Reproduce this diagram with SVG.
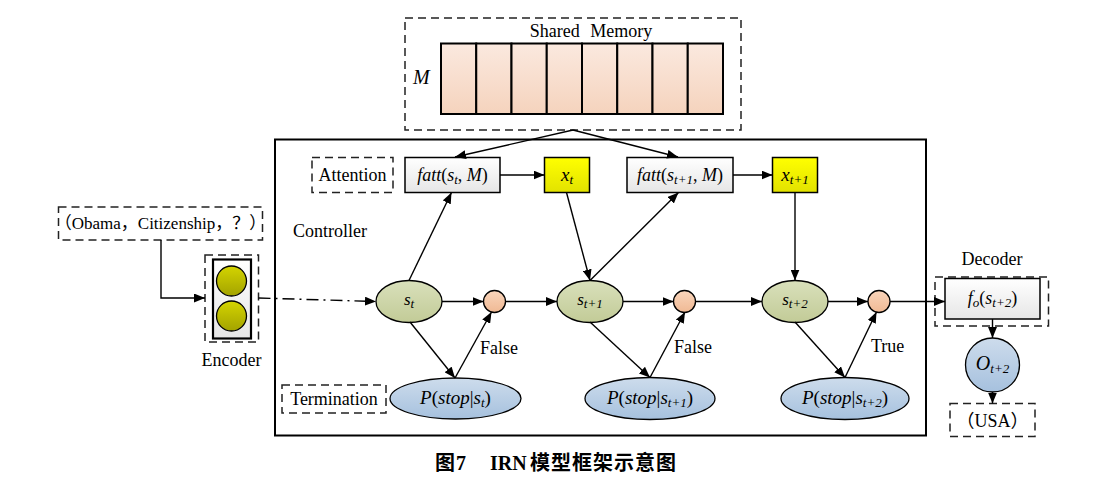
<svg xmlns="http://www.w3.org/2000/svg" width="1095" height="495" viewBox="0 0 1095 495">
<defs>
<linearGradient id="gMem" x1="0" y1="0" x2="0" y2="1"><stop offset="0" stop-color="#fbe9df"/><stop offset="1" stop-color="#f5d3bd"/></linearGradient>
<linearGradient id="gGray" x1="0" y1="0" x2="0" y2="1"><stop offset="0" stop-color="#ffffff"/><stop offset="1" stop-color="#e6e6e6"/></linearGradient>
<linearGradient id="gYel" x1="0" y1="0" x2="0" y2="1"><stop offset="0" stop-color="#ffff00"/><stop offset="1" stop-color="#e2e200"/></linearGradient>
<linearGradient id="gGreen" x1="0" y1="0" x2="0" y2="1"><stop offset="0" stop-color="#d9e0bb"/><stop offset="1" stop-color="#c2cb97"/></linearGradient>
<linearGradient id="gPeach" x1="0" y1="0" x2="0" y2="1"><stop offset="0" stop-color="#f9d5bb"/><stop offset="1" stop-color="#f0b994"/></linearGradient>
<linearGradient id="gBlue" x1="0" y1="0" x2="0" y2="1"><stop offset="0" stop-color="#cddcec"/><stop offset="1" stop-color="#a6c1de"/></linearGradient>
<linearGradient id="gOlive" x1="0" y1="0" x2="0" y2="1"><stop offset="0" stop-color="#d4d400"/><stop offset="1" stop-color="#a3a300"/></linearGradient>
<marker id="arr" markerUnits="userSpaceOnUse" markerWidth="11" markerHeight="9" refX="11" refY="4.5" orient="auto"><path d="M0,0 L11,4.5 L0,9 z" fill="#000"/></marker>
<style>
text { font-family: 'Liberation Serif', 'Noto Sans CJK SC', serif; fill:#000; }
.t15 { font-size:18px; }
.mid { text-anchor:middle; }
.it { font-style:italic; }
.sub { font-style:italic; font-size:13px; }
.cjk { font-family: 'Noto Sans CJK SC', sans-serif; }
.dash { fill:none; stroke:#222; stroke-width:1.5; stroke-dasharray:8 5; }
.ed { stroke:#000; stroke-width:1.4; fill:none; marker-end:url(#arr); }
.cell { fill:url(#gMem); stroke:#000; stroke-width:2; }
.box { stroke:#000; stroke-width:1.5; }
.ell { stroke:#000; stroke-width:1.3; }
</style>
</defs>

<!-- Controller frame -->
<rect id="controller" x="275" y="139.5" width="651" height="296" fill="none" stroke="#000" stroke-width="2"/>
<text class="t15" x="293" y="237">Controller</text>

<!-- Shared memory -->
<g id="memory">
<rect class="dash" x="405" y="18" width="336" height="112"/>
<text class="t15 mid" x="591" y="37" word-spacing="6">Shared Memory</text>
<text class="it" x="413" y="84" font-size="20">M</text>
<rect class="cell" x="441" y="43.5" width="35.25" height="70.5"/>
<rect class="cell" x="476.25" y="43.5" width="35.25" height="70.5"/>
<rect class="cell" x="511.5" y="43.5" width="35.25" height="70.5"/>
<rect class="cell" x="546.75" y="43.5" width="35.25" height="70.5"/>
<rect class="cell" x="582" y="43.5" width="35.25" height="70.5"/>
<rect class="cell" x="617.25" y="43.5" width="35.25" height="70.5"/>
<rect class="cell" x="652.5" y="43.5" width="35.25" height="70.5"/>
<rect class="cell" x="687.75" y="43.5" width="35.25" height="70.5"/>
</g>

<!-- Attention label -->
<g id="attention-label">
<rect class="dash" x="312" y="157.5" width="81" height="35"/>
<text class="t15 mid" x="352.5" y="181">Attention</text>
</g>

<g id="fatt1">
<rect class="box" x="405" y="157.5" width="95" height="35" fill="url(#gGray)"/>
<text class="mid" x="452.5" y="181" font-size="18"><tspan class="it">fatt</tspan>(<tspan class="it">s</tspan><tspan class="sub" dy="3">t</tspan><tspan dy="-3">, </tspan><tspan class="it">M</tspan>)</text>
</g>
<g id="xt">
<rect class="box" x="544.5" y="157.5" width="45" height="35" fill="url(#gYel)"/>
<text class="mid" x="567" y="181" font-size="19"><tspan class="it">x</tspan><tspan class="sub" dy="3">t</tspan></text>
</g>
<g id="fatt2">
<rect class="box" x="627" y="157.5" width="106" height="35" fill="url(#gGray)"/>
<text class="mid" x="680" y="181" font-size="18"><tspan class="it">fatt</tspan>(<tspan class="it">s</tspan><tspan class="sub" dy="3">t+1</tspan><tspan dy="-3">, </tspan><tspan class="it">M</tspan>)</text>
</g>
<g id="xt1">
<rect class="box" x="772.5" y="157.5" width="45" height="35" fill="url(#gYel)"/>
<text class="mid" x="795" y="181" font-size="19"><tspan class="it">x</tspan><tspan class="sub" dy="3">t+1</tspan></text>
</g>

<!-- State nodes -->
<g id="st">
<ellipse class="ell" cx="409" cy="301.5" rx="33" ry="21" fill="url(#gGreen)"/>
<text class="mid" x="409" y="305" font-size="17"><tspan class="it">s</tspan><tspan class="sub" dy="3">t</tspan></text>
</g>
<g id="st1">
<ellipse class="ell" cx="590" cy="301.5" rx="33" ry="21" fill="url(#gGreen)"/>
<text class="mid" x="590" y="305" font-size="17"><tspan class="it">s</tspan><tspan class="sub" dy="3">t+1</tspan></text>
</g>
<g id="st2">
<ellipse class="ell" cx="795" cy="301.5" rx="33" ry="21" fill="url(#gGreen)"/>
<text class="mid" x="795" y="305" font-size="17"><tspan class="it">s</tspan><tspan class="sub" dy="3">t+2</tspan></text>
</g>

<!-- Gate circles -->
<g id="g1"><circle class="ell" cx="494.5" cy="301.5" r="11" fill="url(#gPeach)"/></g>
<g id="g2"><circle class="ell" cx="684.5" cy="301.5" r="11" fill="url(#gPeach)"/></g>
<g id="g3"><circle class="ell" cx="879" cy="301.5" r="11" fill="url(#gPeach)"/></g>

<!-- Termination -->
<g id="termination-label">
<rect class="dash" x="282" y="385" width="104" height="28"/>
<text class="t15 mid" x="334" y="405">Termination</text>
</g>
<g id="p1">
<ellipse class="ell" cx="455.5" cy="398.5" rx="65.5" ry="20.5" fill="url(#gBlue)"/>
<text class="mid" x="455.5" y="404" font-size="19"><tspan class="it">P</tspan>(<tspan class="it">stop</tspan>|<tspan class="it">s</tspan><tspan class="sub" dy="3">t</tspan><tspan dy="-3">)</tspan></text>
</g>
<g id="p2">
<ellipse class="ell" cx="650" cy="398.5" rx="65" ry="21" fill="url(#gBlue)"/>
<text class="mid" x="650" y="404" font-size="19"><tspan class="it">P</tspan>(<tspan class="it">stop</tspan>|<tspan class="it">s</tspan><tspan class="sub" dy="3">t+1</tspan><tspan dy="-3">)</tspan></text>
</g>
<g id="p3">
<ellipse class="ell" cx="845" cy="398.5" rx="64" ry="21" fill="url(#gBlue)"/>
<text class="mid" x="845" y="404" font-size="19"><tspan class="it">P</tspan>(<tspan class="it">stop</tspan>|<tspan class="it">s</tspan><tspan class="sub" dy="3">t+2</tspan><tspan dy="-3">)</tspan></text>
</g>

<!-- Input & encoder -->
<g id="input">
<rect class="dash" x="58.5" y="207" width="204" height="33"/>
<text class="mid" font-size="17" x="160.5" y="229"><tspan class="cjk">（</tspan>Obama<tspan class="cjk">，</tspan>Citizenship<tspan class="cjk">，？）</tspan></text>
</g>
<g id="encoder">
<rect class="dash" x="205" y="255" width="53.5" height="87"/>
<rect x="213" y="259.5" width="38" height="79" fill="url(#gGray)" stroke="#000" stroke-width="2.2"/>
<circle cx="231.5" cy="281" r="15" fill="url(#gOlive)" stroke="#000" stroke-width="1.3"/>
<circle cx="231.5" cy="316" r="15" fill="url(#gOlive)" stroke="#000" stroke-width="1.3"/>
<text class="t15 mid" x="231.5" y="366">Encoder</text>
</g>

<!-- Decoder -->
<g id="decoder">
<text class="t15 mid" x="992" y="265">Decoder</text>
<rect class="dash" x="935" y="277" width="113.5" height="49"/>
<rect class="box" x="945" y="278.5" width="95" height="40.5" fill="url(#gGray)"/>
<text class="mid" x="992.5" y="304" font-size="18"><tspan class="it">f</tspan><tspan class="sub" dy="3">o</tspan><tspan dy="-3">(</tspan><tspan class="it">s</tspan><tspan class="sub" dy="3">t+2</tspan><tspan dy="-3">)</tspan></text>
</g>
<g id="output">
<circle class="ell" cx="992.5" cy="365" r="27" fill="url(#gBlue)"/>
<text class="mid" x="992.5" y="370" font-size="20"><tspan class="it">O</tspan><tspan class="sub" dy="3">t+2</tspan></text>
</g>
<g id="answer">
<rect class="dash" x="950" y="403.5" width="85" height="33"/>
<text class="t15 mid" x="992.5" y="427"><tspan class="cjk">（</tspan>USA<tspan class="cjk">）</tspan></text>
</g>

<!-- Connectors -->
<g id="connectors">
<path class="ed" d="M573,130 L455,157"/>
<path class="ed" d="M573,130 L678,157"/>
<path class="ed" d="M500,175 L544.5,175"/>
<path class="ed" d="M733,175 L772.5,175"/>
<path class="ed" d="M409,280.5 L451.5,192.5"/>
<path class="ed" d="M566.5,192.5 L590,280.5"/>
<path class="ed" d="M590,280.5 L678.5,192.5"/>
<path class="ed" d="M795,192.5 L795,280.5"/>
<path class="ed" d="M442,301.5 L483.5,301.5"/>
<path class="ed" d="M505.5,301.5 L557,301.5"/>
<path class="ed" d="M623,301.5 L673.5,301.5"/>
<path class="ed" d="M695.5,301.5 L762,301.5"/>
<path class="ed" d="M828,301.5 L868,301.5"/>
<path class="ed" d="M890,301.5 L945,301.5"/>
<path class="ed" d="M410,322 L455,378"/>
<path class="ed" d="M455,378 L491.5,312"/>
<path class="ed" d="M590,322 L650,377.5"/>
<path class="ed" d="M650,377.5 L685,312"/>
<path class="ed" d="M795,322 L845,377.5"/>
<path class="ed" d="M845,377.5 L876.5,312"/>
<path class="ed" d="M992.5,319 L992.5,338"/>
<path class="ed" d="M992.5,392 L992.5,403.5"/>
<path class="ed" d="M161,240 L161,298 L205,298"/>
<path class="ed" d="M258.5,298 L376,301.5" stroke-dasharray="12 5 2 5"/>
<text class="t15" x="480" y="354">False</text>
<text class="t15" x="674" y="353">False</text>
<text class="t15" x="871" y="352">True</text>
</g>

<!-- Caption -->
<text font-size="20" font-weight="bold" y="470"><tspan x="435">图</tspan><tspan x="456" font-family="Liberation Serif, serif">7</tspan><tspan x="490" font-family="Liberation Serif, serif">IRN</tspan><tspan x="530" letter-spacing="1">模型框架示意图</tspan></text>
</svg>
